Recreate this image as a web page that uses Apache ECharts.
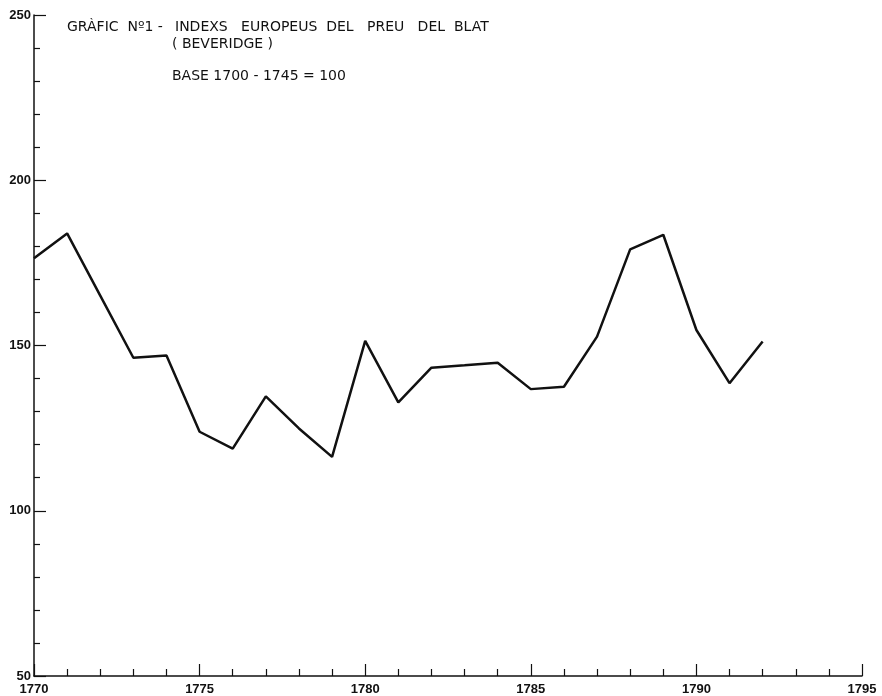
<!DOCTYPE html>
<html>
<head>
<meta charset="utf-8">
<title>Gràfic Nº1</title>
<script src="https://cdn.jsdelivr.net/npm/echarts@6/dist/echarts.min.js"></script>
<style>
  html, body { margin: 0; padding: 0; background: #fff; }
  #chart { width: 882px; height: 696px; }
</style>
</head>
<body>
<div id="chart"></div>
<script>
// anys i índexs llegits del gràfic
var years = [1770, 1771, 1772, 1773, 1774, 1775, 1776, 1777, 1778, 1779, 1780, 1781,
             1782, 1783, 1784, 1785, 1786, 1787, 1788, 1789, 1790, 1791, 1792];
var indexs = [176.4, 183.9, 165.1, 146.3, 147.0, 123.9, 118.8, 134.6, 124.9, 116.3, 151.4, 132.8,
              143.3, 144.0, 144.8, 136.8, 137.5, 152.7, 179.1, 183.5, 154.7, 138.6, 151.2];
var titleLines = ['GRÀFIC  Nº1 -', 'INDEXS   EUROPEUS  DEL   PREU   DEL  BLAT', '( BEVERIDGE )', 'BASE 1700 - 1745 = 100'];

var chart = echarts.init(document.getElementById('chart'));

var points = years.map(function (y, i) { return [y, indexs[i]]; });
var titleFont = '14px "DejaVu Sans"';
var labelFont = 'Liberation Sans';
var ink = '#111';

var option = {
    backgroundColor: '#fff',
    animation: false,
    grid: { left: 34, right: 20, top: 15, bottom: 20 },
    graphic: [
        { type: 'text', left: 67, top: 20, style: { text: titleLines[0], font: titleFont, fill: ink } },
        { type: 'text', left: 175, top: 20, style: { text: titleLines[1], font: titleFont, fill: ink } },
        { type: 'text', left: 172, top: 37, style: { text: titleLines[2], font: titleFont, fill: ink } },
        { type: 'text', left: 172, top: 69, style: { text: titleLines[3], font: titleFont, fill: ink } }
    ],
    xAxis: {
        type: 'value',
        min: 1770,
        max: 1795,
        interval: 5,
        axisLine: { lineStyle: { color: ink, width: 1.5 } },
        axisTick: { inside: true, length: 12, lineStyle: { color: ink, width: 1.2 } },
        minorTick: { show: true, splitNumber: 5, length: 7, lineStyle: { color: ink, width: 1.2 } },
        splitLine: { show: false },
        axisLabel: {
            color: ink, fontFamily: labelFont, fontSize: 13, fontWeight: 'bold', margin: 7,
            formatter: function (v) { return String(v); }
        }
    },
    yAxis: {
        type: 'value',
        min: 50,
        max: 250,
        interval: 50,
        axisLine: { show: true, lineStyle: { color: ink, width: 1.5 } },
        axisTick: { show: true, inside: true, length: 12, lineStyle: { color: ink, width: 1.2 } },
        minorTick: { show: true, splitNumber: 5, length: 6, lineStyle: { color: ink, width: 1.2 } },
        splitLine: { show: false },
        axisLabel: { color: ink, fontFamily: labelFont, fontSize: 13, fontWeight: 'bold', margin: 3 }
    },
    series: [{
        type: 'line',
        data: points,
        showSymbol: false,
        lineStyle: { color: ink, width: 2.5 }
    }]
};

chart.setOption(option);
</script>
</body>
</html>
